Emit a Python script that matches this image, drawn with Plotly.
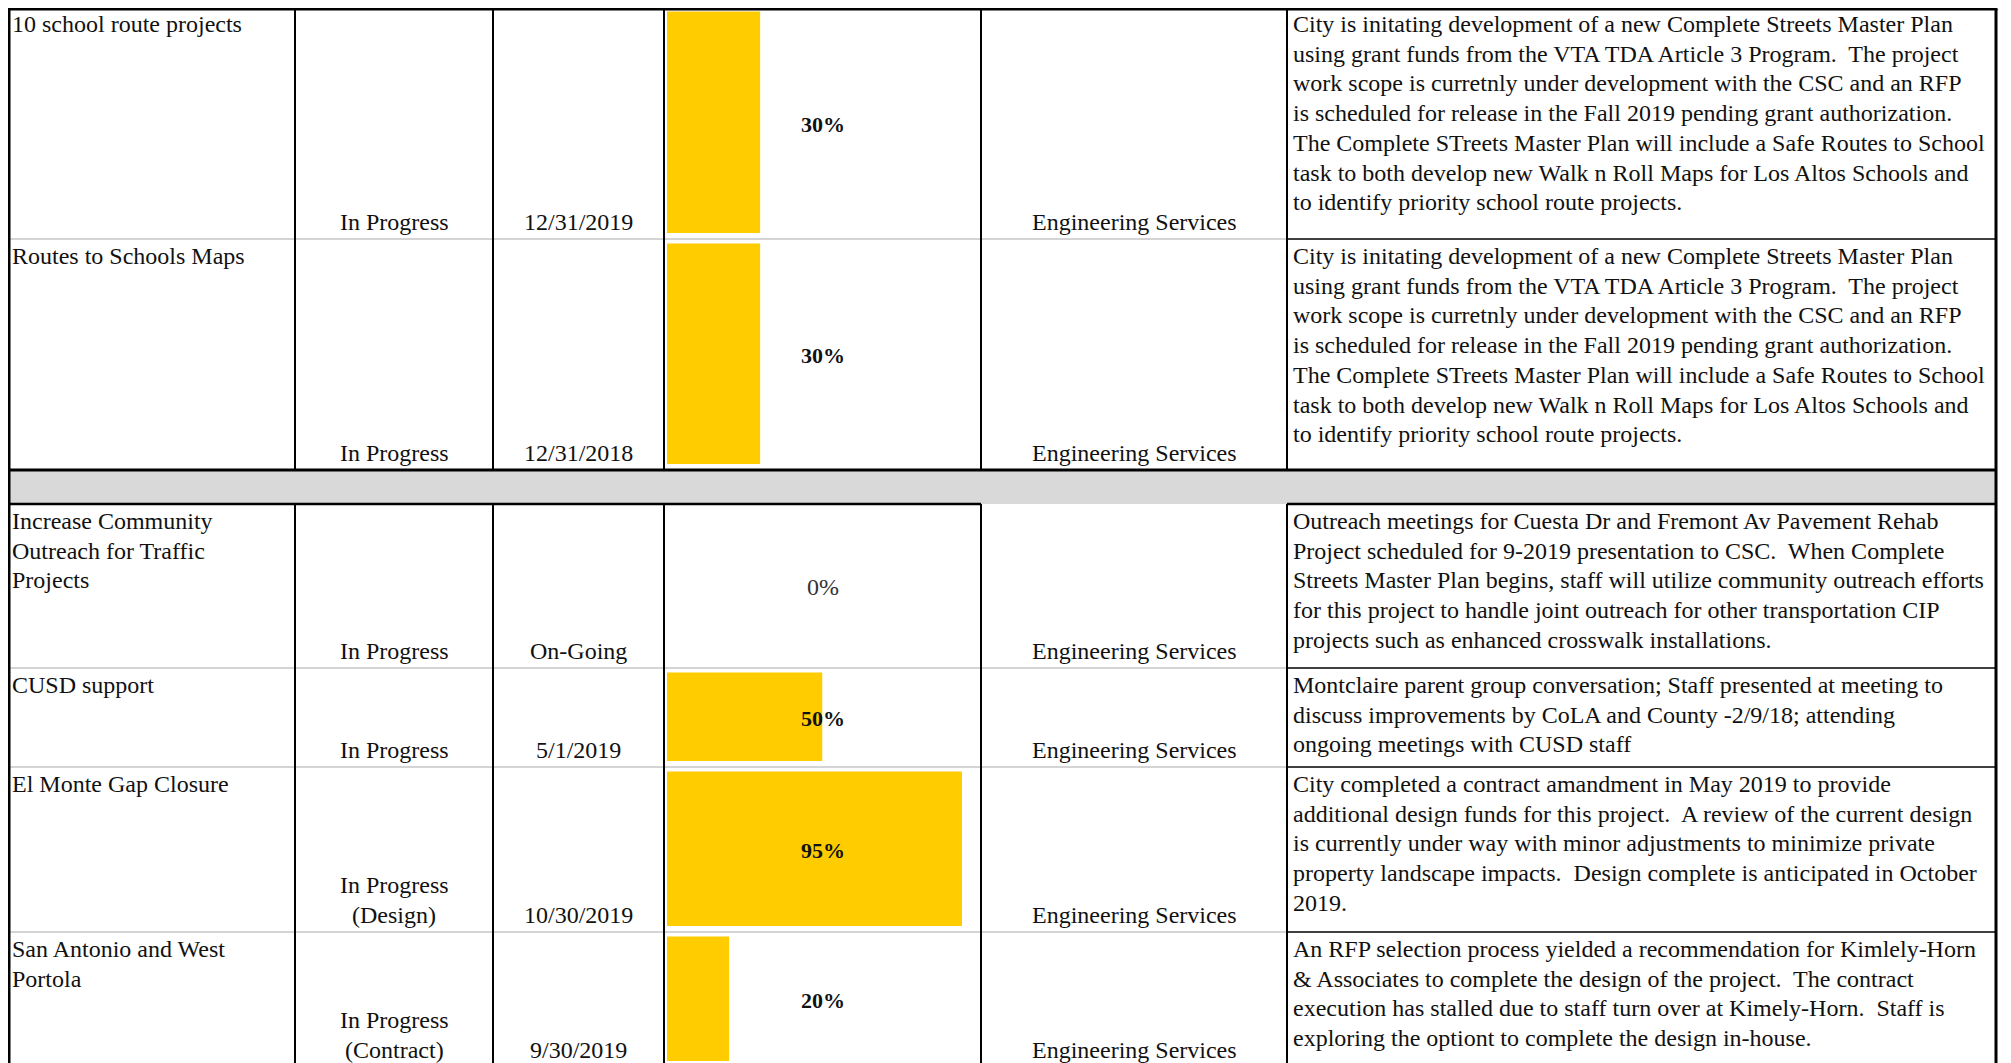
import plotly.graph_objects as go

# ---- data -------------------------------------------------------------
projects = [
    "10 school route projects",
    "Routes to Schools Maps",
    "Increase Community<br>Outreach for Traffic<br>Projects",
    "CUSD support",
    "El Monte Gap Closure",
    "San Antonio and West<br>Portola",
]
status = ["In Progress", "In Progress", "In Progress", "In Progress",
          "In Progress<br>(Design)", "In Progress<br>(Contract)"]
due_dates = ["12/31/2019", "12/31/2018", "On-Going", "5/1/2019",
             "10/30/2019", "9/30/2019"]
pct_complete = [30, 30, 0, 50, 95, 20]
department = ["Engineering Services"] * 6

SP = "\u00a0 "
csmp_note = [
    "City is initating development of a new Complete Streets Master Plan",
    "using grant funds from the VTA TDA Article 3 Program." + SP + "The project",
    "work scope is curretnly under development with the CSC and an RFP",
    "is scheduled for release in the Fall 2019 pending grant authorization.",
    "The Complete STreets Master Plan will include a Safe Routes to School",
    "task to both develop new Walk n Roll Maps for Los Altos Schools and",
    "to identify priority school route projects.",
]
notes = [
    csmp_note,
    csmp_note,
    [
        "Outreach meetings for Cuesta Dr and Fremont Av Pavement Rehab",
        "Project scheduled for 9-2019 presentation to CSC." + SP + "When Complete",
        "Streets Master Plan begins, staff will utilize community outreach efforts",
        "for this project to handle joint outreach for other transportation CIP",
        "projects such as enhanced crosswalk installations.",
    ],
    [
        "Montclaire parent group conversation; Staff presented at meeting to",
        "discuss improvements by CoLA and County -2/9/18; attending",
        "ongoing meetings with CUSD staff",
    ],
    [
        "City completed a contract amandment in May 2019 to provide",
        "additional design funds for this project." + SP + "A review of the current design",
        "is currently under way with minor adjustments to minimize private",
        "property landscape impacts." + SP + "Design complete is anticipated in October",
        "2019.",
    ],
    [
        "An RFP selection process yielded a recommendation for Kimlely-Horn",
        "&amp; Associates to complete the design of the project." + SP + "The contract",
        "execution has stalled due to staff turn over at Kimely-Horn." + SP + "Staff is",
        "exploring the optiont to complete the design in-house.",
    ],
]

# ---- layout (pixels, page coordinates) ---------------------------------
W, H = 2011, 1063
OFF = 8  # page body margin; the plot div starts here
LEFT, RIGHT, TOP = 9, 1996, 9
col_edges = [LEFT, 295, 493, 664, 981, 1287, RIGHT]
# (top, bottom) of each project row; a grey band sits between row 2 and 3
row_spans = [(7, 239), (239, 470), (504, 668), (668, 767), (767, 932), (932, 1067)]
band = (470, 504)
BAR_X0, BAR_X100 = 667, 977.5
LINE_H = 29.7

FONT = "Liberation Serif"
FS = 24
INK = "#111111"
LIGHT = "#D4D4D4"

fig = go.Figure()

# data bars in the % column
bar_y = [((t + 4.5) + (b - 6)) / 2 for t, b in row_spans]
bar_h = [(b - 6) - (t + 4.5) for t, b in row_spans]
fig.add_trace(go.Bar(
    x=pct_complete, y=bar_y, width=bar_h, orientation='h',
    xaxis='x2', yaxis='y', marker=dict(color='#FFCC00', line=dict(width=0)),
    hoverinfo='skip', showlegend=False
))

shapes = []
# grey band
shapes.append(dict(type='rect', x0=LEFT, x1=RIGHT, y0=band[0], y1=band[1],
                   fillcolor='#D9D9D9', line=dict(width=0)))

# light row separators in the left columns, black ones in the notes column
for t, b in row_spans[:-1]:
    if b == band[0]:
        continue
    shapes.append(dict(type='line', x0=LEFT, x1=col_edges[5], y0=b, y1=b,
                       line=dict(color=LIGHT, width=2)))
    shapes.append(dict(type='line', x0=col_edges[5], x1=RIGHT, y0=b, y1=b,
                       line=dict(color='black', width=1.5)))

# vertical column lines (interrupted by the band)
for x in col_edges[1:-1]:
    for y0, y1 in [(TOP, band[0]), (band[1], H + 10)]:
        shapes.append(dict(type='line', x0=x, x1=x, y0=y0, y1=y1,
                           line=dict(color='black', width=2)))

# band outline
shapes.append(dict(type='line', x0=LEFT, x1=RIGHT, y0=band[0], y1=band[0],
                   line=dict(color='black', width=3)))
shapes.append(dict(type='line', x0=LEFT, x1=col_edges[4], y0=band[1], y1=band[1],
                   line=dict(color='black', width=2.5)))
shapes.append(dict(type='line', x0=col_edges[5], x1=RIGHT, y0=band[1], y1=band[1],
                   line=dict(color='black', width=2.5)))

# outer border
shapes.append(dict(type='line', x0=LEFT - 1.5, x1=RIGHT + 1.5, y0=TOP, y1=TOP,
                   line=dict(color='black', width=3)))
shapes.append(dict(type='line', x0=LEFT, x1=LEFT, y0=TOP, y1=H + 10,
                   line=dict(color='black', width=3)))
shapes.append(dict(type='line', x0=RIGHT, x1=RIGHT, y0=TOP, y1=H + 10,
                   line=dict(color='black', width=3)))

for s in shapes:
    s['xref'] = 'x'
    s['yref'] = 'y'

annotations = []
def txt(x, y, text, xanchor, align='left', size=FS, color=INK, bold=False):
    annotations.append(dict(
        x=x, y=y, xref='x', yref='y', text=f"<b>{text}</b>" if bold else text,
        showarrow=False, xanchor=xanchor, yanchor='middle', align=align,
        font=dict(family=FONT, size=size, color=color), borderpad=0
    ))

def top_lines(x, top, text, xanchor='left'):
    for k, line in enumerate(text.split("<br>")):
        txt(x, top + 17 + k * LINE_H, line, xanchor)

def bottom_lines(x, bottom, text, xanchor='center'):
    lines = text.split("<br>")
    n = len(lines)
    for k, line in enumerate(lines):
        txt(x, bottom - 17 - (n - 1 - k) * LINE_H, line, xanchor, align='center')

for i, (t, b) in enumerate(row_spans):
    top_lines(11, t, projects[i])
    bottom_lines((col_edges[1] + col_edges[2]) / 2, b, status[i])
    bottom_lines((col_edges[2] + col_edges[3]) / 2, b, due_dates[i])
    p = pct_complete[i]
    txt((col_edges[3] + col_edges[4]) / 2, (t + b) / 2 + 1, f"{p}%", 'center',
        size=22 if p else 24, color=INK if p else '#333333', bold=bool(p))
    bottom_lines((col_edges[4] + col_edges[5]) / 2, b, department[i])
    top_lines(col_edges[5] + 5, t, "<br>".join(notes[i]))

fig.update_layout(
    width=W - OFF, height=H - OFF,
    margin=dict(l=0, r=0, t=0, b=0),
    paper_bgcolor='white', plot_bgcolor='rgba(0,0,0,0)',
    xaxis=dict(range=[OFF, W], domain=[0, 1], visible=False, fixedrange=True),
    yaxis=dict(range=[H, OFF], domain=[0, 1], visible=False, fixedrange=True),
    xaxis2=dict(range=[0, 100],
                domain=[(BAR_X0 - OFF) / (W - OFF), (BAR_X100 - OFF) / (W - OFF)],
                anchor='y', visible=False, fixedrange=True),
    shapes=shapes,
    annotations=annotations,
    showlegend=False,
)

fig.write_html("out.html")
